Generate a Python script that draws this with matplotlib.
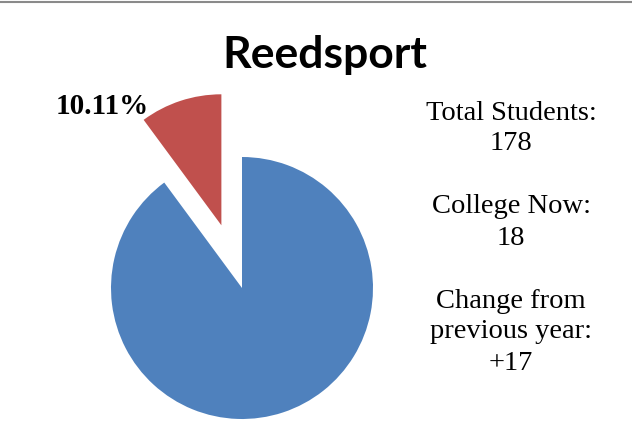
import matplotlib
matplotlib.use("Agg")
import matplotlib.pyplot as plt
from matplotlib.lines import Line2D

# Data
categories = ["College Now", "Other"]
values = [18, 160]
colors = ["#C0504D", "#4F81BD"]
title = "Reedsport"
info_lines = ["Total Students:", "178", "", "College Now:", "18", "",
              "Change from", "previous year:", "+17"]

W, H = 632, 430
fig = plt.figure(figsize=(W / 100, H / 100), dpi=100)
ax = fig.add_axes([0, 0, 1, 1])
ax.set_xlim(0, W)
ax.set_ylim(0, H)
ax.set_aspect("equal")
ax.axis("off")

cx, cy, r = 242, H - 288, 131
ax.pie(values, colors=colors, startangle=90, counterclock=True,
       explode=[66, 0], center=(cx, cy), radius=r,
       wedgeprops=dict(linewidth=0))
ax.set_xlim(0, W)
ax.set_ylim(0, H)

pct = values[0] / sum(values) * 100
ax.text(149, H - 106, f"{pct:.2f}%", ha="right", va="center",
        fontsize=21, fontweight="bold", family=["Liberation Serif", "DejaVu Serif"],
        color="black")

fig.text(325 / W, 1 - 68 / H, title, ha="center", va="baseline",
         fontsize=32, fontweight="bold", family=["Lato", "DejaVu Sans"])

ys = [120, 150, None, 213, 245, None, 308, 338, 370]
for txt, y in zip(info_lines, ys):
    if y is None:
        continue
    fig.text(511 / W, 1 - y / H, txt, ha="center", va="baseline",
             fontsize=20.5, family=["Liberation Serif", "DejaVu Serif"])

fig.add_artist(Line2D([0, 1], [1 - 1.6 / H, 1 - 1.6 / H], transform=fig.transFigure,
                      color="#8a8a8a", linewidth=1.5))

fig.savefig("out.png", dpi=100, facecolor="white")
